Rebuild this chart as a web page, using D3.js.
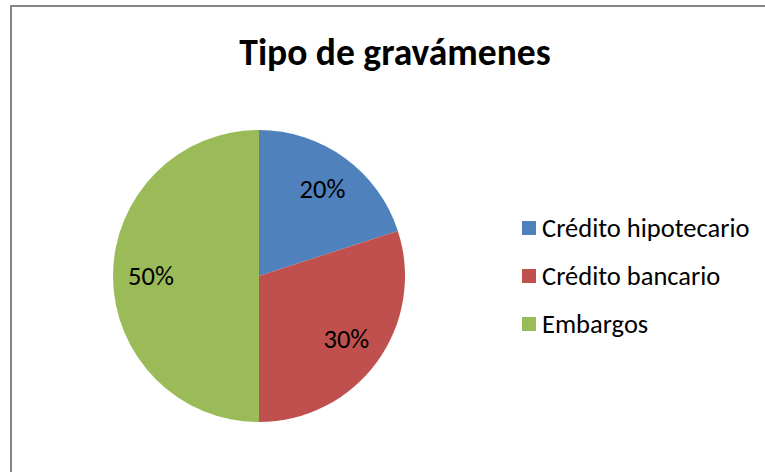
<!DOCTYPE html>
<html><head><meta charset="utf-8">
<script src="https://cdn.jsdelivr.net/npm/d3@7"></script>
<style>body{margin:0;background:#fff}</style>
</head><body>
<svg id="c" width="765" height="472"></svg>
<script>
const categories = ["Crédito hipotecario", "Crédito bancario", "Embargos"];
const values = [20, 30, 50];
const labels = ["20%", "30%", "50%"];
const colors = ["#4F81BD", "#C0504D", "#9BBB59"];
const title = "Tipo de gravámenes";

const svg = d3.select("#c");
const font = "Carlito, Calibri, Lato, 'Open Sans', sans-serif";
svg.append("rect").attr("x", 11).attr("y", 6).attr("width", 780).attr("height", 500)
  .attr("fill", "#fff").attr("stroke", "#868686").attr("stroke-width", 2);

svg.append("text").attr("x", 395).attr("y", 65).attr("text-anchor", "middle")
  .attr("font-family", font).attr("font-weight", "bold").attr("font-size", 37.5)
  .attr("fill", "#000").text(title);

const cx = 259, cy = 276, r = 146;
const pie = d3.pie().sort(null).value(d => d)(values);
const arc = d3.arc().innerRadius(0).outerRadius(r);
const labelArc = d3.arc().innerRadius(108).outerRadius(108);
const g = svg.append("g").attr("transform", `translate(${cx},${cy})`);
g.selectAll("path").data(pie).join("path").attr("d", arc).attr("fill", (d, i) => colors[i]);
g.selectAll("text").data(pie).join("text")
  .attr("transform", d => `translate(${labelArc.centroid(d)})`)
  .attr("text-anchor", "middle").attr("dominant-baseline", "central")
  .attr("font-family", font).attr("font-size", 26.5).attr("fill", "#000")
  .text((d, i) => labels[i]);

const y = d3.scalePoint().domain(categories).range([228, 324]);
const lg = svg.append("g");
lg.selectAll("rect").data(categories).join("rect")
  .attr("x", 522).attr("y", d => y(d) - 7).attr("width", 14).attr("height", 14)
  .attr("fill", (d, i) => colors[i]);
lg.selectAll("text").data(categories).join("text")
  .attr("x", 542).attr("y", d => y(d)).attr("dominant-baseline", "central")
  .attr("font-family", font).attr("font-size", 26.5).attr("fill", "#000").text(d => d);
</script>
</body></html>
